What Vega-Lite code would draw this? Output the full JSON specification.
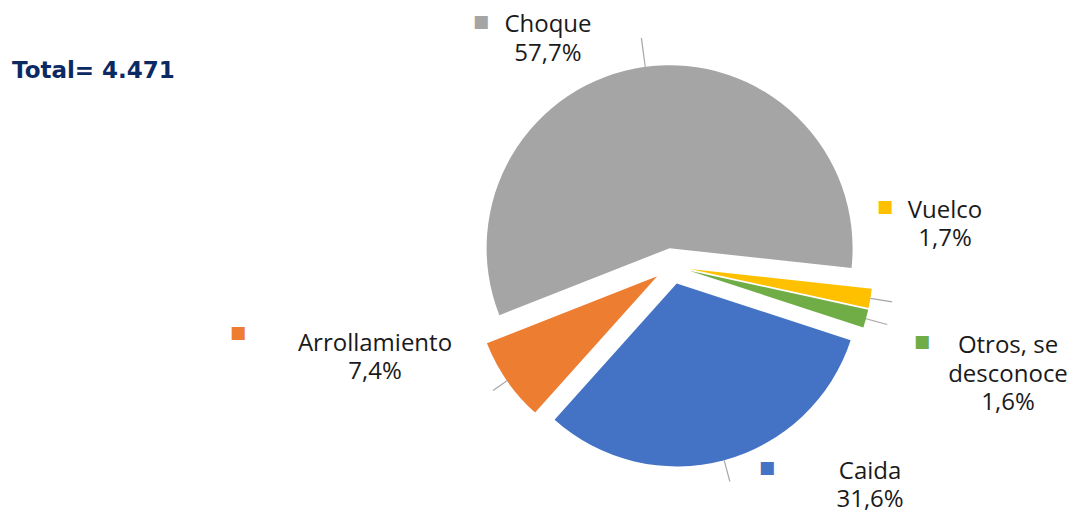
{
  "$schema": "https://vega.github.io/schema/vega-lite/v6.json",
  "width": 810,
  "height": 332,
  "autosize": "none",
  "padding": {"left": 267, "top": 100, "right": 0, "bottom": 78},
  "background": "white",
  "title": {
    "text": "Total= 4.471",
    "anchor": "start",
    "frame": "group",
    "dx": -255,
    "offset": -88,
    "baseline": "alphabetic",
    "font": "DejaVu Sans",
    "fontSize": 23,
    "fontWeight": "bold",
    "color": "#0b2a63"
  },
  "config": {"view": {"stroke": null}},
  "data": {
    "values": [
      {"cat": "Choque", "order": 1, "pct": 57.7, "lbl": "Choque\n57,7%"},
      {"cat": "Vuelco", "order": 2, "pct": 1.7, "lbl": "Vuelco\n1,7%"},
      {"cat": "Otros, se desconoce", "order": 3, "pct": 1.6, "lbl": "Otros, se\ndesconoce\n1,6%"},
      {"cat": "Caida", "order": 4, "pct": 31.6, "lbl": "Caida\n31,6%"},
      {"cat": "Arrollamiento", "order": 5, "pct": 7.4, "lbl": "Arrollamiento\n7,4%"}
    ]
  },
  "transform": [
    {"stack": "pct", "groupby": [], "sort": [{"field": "order", "order": "ascending"}], "as": ["v0", "v1"]}
  ],
  "layer": [
    {
      "transform": [{"filter": "datum.cat === 'Choque'"}],
      "mark": {"type": "arc", "outerRadius": 183, "xOffset": -2.4, "yOffset": -17.8},
      "encoding": {
        "theta": {"field": "v0", "type": "quantitative", "scale": {"domain": [0, 100], "range": [4.3371, 10.6203]}},
        "theta2": {"field": "v1"},
        "color": {"field": "cat", "type": "nominal", "scale": {"domain": ["Choque", "Vuelco", "Otros, se desconoce", "Caida", "Arrollamiento"], "range": ["#a5a5a5", "#ffc000", "#70ad47", "#4472c4", "#ed7d31"]}, "legend": null}
      }
    },
    {
      "transform": [{"filter": "datum.cat === 'Vuelco'"}],
      "mark": {"type": "arc", "outerRadius": 183, "xOffset": 17.8, "yOffset": 2.9},
      "encoding": {
        "theta": {"field": "v0", "type": "quantitative", "scale": {"domain": [0, 100], "range": [4.3371, 10.6203]}},
        "theta2": {"field": "v1"},
        "color": {"field": "cat", "type": "nominal", "legend": null}
      }
    },
    {
      "transform": [{"filter": "datum.cat === 'Otros, se desconoce'"}],
      "mark": {"type": "arc", "outerRadius": 183, "xOffset": 17.4, "yOffset": 4.7},
      "encoding": {
        "theta": {"field": "v0", "type": "quantitative", "scale": {"domain": [0, 100], "range": [4.3371, 10.6203]}},
        "theta2": {"field": "v1"},
        "color": {"field": "cat", "type": "nominal", "legend": null}
      }
    },
    {
      "transform": [{"filter": "datum.cat === 'Caida'"}],
      "mark": {"type": "arc", "outerRadius": 183, "xOffset": 4.7, "yOffset": 17.4},
      "encoding": {
        "theta": {"field": "v0", "type": "quantitative", "scale": {"domain": [0, 100], "range": [4.3371, 10.6203]}},
        "theta2": {"field": "v1"},
        "color": {"field": "cat", "type": "nominal", "legend": null}
      }
    },
    {
      "transform": [{"filter": "datum.cat === 'Arrollamiento'"}],
      "mark": {"type": "arc", "outerRadius": 183, "xOffset": -14.8, "yOffset": 10.3},
      "encoding": {
        "theta": {"field": "v0", "type": "quantitative", "scale": {"domain": [0, 100], "range": [4.3371, 10.6203]}},
        "theta2": {"field": "v1"},
        "color": {"field": "cat", "type": "nominal", "legend": null}
      }
    },
    {
      "transform": [{"filter": "datum.cat === 'Choque'"}],
      "mark": {"type": "arc", "innerRadius": 183, "outerRadius": 212, "xOffset": -2.4, "yOffset": -17.8, "thetaOffset": 1.8097, "theta2Offset": -1.8097, "color": "#a6a6a6"},
      "encoding": {
        "theta": {"field": "v0", "type": "quantitative", "scale": {"domain": [0, 100], "range": [4.3371, 10.6203]}},
        "theta2": {"field": "v1"}
      }
    },
    {
      "transform": [{"filter": "datum.cat === 'Vuelco'"}],
      "mark": {"type": "arc", "innerRadius": 183, "outerRadius": 205, "xOffset": 17.8, "yOffset": 2.9, "thetaOffset": 0.0504, "theta2Offset": -0.0504, "color": "#a6a6a6"},
      "encoding": {
        "theta": {"field": "v0", "type": "quantitative", "scale": {"domain": [0, 100], "range": [4.3371, 10.6203]}},
        "theta2": {"field": "v1"}
      }
    },
    {
      "transform": [{"filter": "datum.cat === 'Otros, se desconoce'"}],
      "mark": {"type": "arc", "innerRadius": 183, "outerRadius": 205, "xOffset": 17.4, "yOffset": 4.7, "thetaOffset": 0.0473, "theta2Offset": -0.0473, "color": "#a6a6a6"},
      "encoding": {
        "theta": {"field": "v0", "type": "quantitative", "scale": {"domain": [0, 100], "range": [4.3371, 10.6203]}},
        "theta2": {"field": "v1"}
      }
    },
    {
      "transform": [{"filter": "datum.cat === 'Caida'"}],
      "mark": {"type": "arc", "innerRadius": 183, "outerRadius": 205, "xOffset": 4.7, "yOffset": 17.4, "thetaOffset": 0.9897, "theta2Offset": -0.9897, "color": "#a6a6a6"},
      "encoding": {
        "theta": {"field": "v0", "type": "quantitative", "scale": {"domain": [0, 100], "range": [4.3371, 10.6203]}},
        "theta2": {"field": "v1"}
      }
    },
    {
      "transform": [{"filter": "datum.cat === 'Arrollamiento'"}],
      "mark": {"type": "arc", "innerRadius": 183, "outerRadius": 200, "xOffset": -14.8, "yOffset": 10.3, "thetaOffset": 0.2295, "theta2Offset": -0.2295, "color": "#a6a6a6"},
      "encoding": {
        "theta": {"field": "v0", "type": "quantitative", "scale": {"domain": [0, 100], "range": [4.3371, 10.6203]}},
        "theta2": {"field": "v1"}
      }
    },
    {
      "transform": [{"filter": "datum.cat === 'Choque'"}],
      "mark": {"type": "text", "radius": 243, "thetaOffset": 1.8127, "dx": -91.7, "dy": 0, "align": "center", "baseline": "middle", "font": "Open Sans", "fontSize": 24, "lineHeight": 28.5, "lineBreak": "\n", "color": "#1a1a1a"},
      "encoding": {
        "theta": {"field": "v0", "type": "quantitative", "scale": {"domain": [0, 100], "range": [4.3371, 10.6203]}},
        "text": {"field": "lbl"}
      }
    },
    {
      "transform": [{"filter": "datum.cat === 'Vuelco'"}],
      "mark": {"type": "text", "radius": 262, "thetaOffset": 0.0534, "dx": 14.4, "dy": -97.45, "align": "center", "baseline": "middle", "font": "Open Sans", "fontSize": 24, "lineHeight": 28.5, "lineBreak": "\n", "color": "#1a1a1a"},
      "encoding": {
        "theta": {"field": "v0", "type": "quantitative", "scale": {"domain": [0, 100], "range": [4.3371, 10.6203]}},
        "text": {"field": "lbl"}
      }
    },
    {
      "transform": [{"filter": "datum.cat === 'Otros, se desconoce'"}],
      "mark": {"type": "text", "radius": 353, "thetaOffset": 0.0503, "dx": -4.6, "dy": -12.2, "align": "center", "baseline": "middle", "font": "Open Sans", "fontSize": 24, "lineHeight": 28.5, "lineBreak": "\n", "color": "#1a1a1a"},
      "encoding": {
        "theta": {"field": "v0", "type": "quantitative", "scale": {"domain": [0, 100], "range": [4.3371, 10.6203]}},
        "text": {"field": "lbl"}
      }
    },
    {
      "transform": [{"filter": "datum.cat === 'Caida'"}],
      "mark": {"type": "text", "radius": 263, "thetaOffset": 0.9927, "dx": 129.9, "dy": -48.35, "align": "center", "baseline": "middle", "font": "Open Sans", "fontSize": 24, "lineHeight": 28.5, "lineBreak": "\n", "color": "#1a1a1a"},
      "encoding": {
        "theta": {"field": "v0", "type": "quantitative", "scale": {"domain": [0, 100], "range": [4.3371, 10.6203]}},
        "text": {"field": "lbl"}
      }
    },
    {
      "transform": [{"filter": "datum.cat === 'Arrollamiento'"}],
      "mark": {"type": "text", "radius": 296, "thetaOffset": 0.2325, "dx": -54, "dy": -91.25, "align": "center", "baseline": "middle", "font": "Open Sans", "fontSize": 24, "lineHeight": 28.5, "lineBreak": "\n", "color": "#1a1a1a"},
      "encoding": {
        "theta": {"field": "v0", "type": "quantitative", "scale": {"domain": [0, 100], "range": [4.3371, 10.6203]}},
        "text": {"field": "lbl"}
      }
    },
    {
      "transform": [{"filter": "datum.cat === 'Choque'"}],
      "mark": {"type": "text", "radius": 243, "thetaOffset": 1.8127, "dx": -158.7, "dy": -3.2, "align": "center", "baseline": "middle", "font": "DejaVu Sans", "fontSize": 17, "text": "■"},
      "encoding": {
        "theta": {"field": "v0", "type": "quantitative", "scale": {"domain": [0, 100], "range": [4.3371, 10.6203]}},
        "color": {"field": "cat", "type": "nominal", "legend": null}
      }
    },
    {
      "transform": [{"filter": "datum.cat === 'Vuelco'"}],
      "mark": {"type": "text", "radius": 262, "thetaOffset": 0.0534, "dx": -45.6, "dy": -101.2, "align": "center", "baseline": "middle", "font": "DejaVu Sans", "fontSize": 17, "text": "■"},
      "encoding": {
        "theta": {"field": "v0", "type": "quantitative", "scale": {"domain": [0, 100], "range": [4.3371, 10.6203]}},
        "color": {"field": "cat", "type": "nominal", "legend": null}
      }
    },
    {
      "transform": [{"filter": "datum.cat === 'Otros, se desconoce'"}],
      "mark": {"type": "text", "radius": 353, "thetaOffset": 0.0503, "dx": -90.6, "dy": -16.7, "align": "center", "baseline": "middle", "font": "DejaVu Sans", "fontSize": 17, "text": "■"},
      "encoding": {
        "theta": {"field": "v0", "type": "quantitative", "scale": {"domain": [0, 100], "range": [4.3371, 10.6203]}},
        "color": {"field": "cat", "type": "nominal", "legend": null}
      }
    },
    {
      "transform": [{"filter": "datum.cat === 'Caida'"}],
      "mark": {"type": "text", "radius": 263, "thetaOffset": 0.9927, "dx": 26.9, "dy": -52.1, "align": "center", "baseline": "middle", "font": "DejaVu Sans", "fontSize": 17, "text": "■"},
      "encoding": {
        "theta": {"field": "v0", "type": "quantitative", "scale": {"domain": [0, 100], "range": [4.3371, 10.6203]}},
        "color": {"field": "cat", "type": "nominal", "legend": null}
      }
    },
    {
      "transform": [{"filter": "datum.cat === 'Arrollamiento'"}],
      "mark": {"type": "text", "radius": 296, "thetaOffset": 0.2325, "dx": -191, "dy": -102, "align": "center", "baseline": "middle", "font": "DejaVu Sans", "fontSize": 17, "text": "■"},
      "encoding": {
        "theta": {"field": "v0", "type": "quantitative", "scale": {"domain": [0, 100], "range": [4.3371, 10.6203]}},
        "color": {"field": "cat", "type": "nominal", "legend": null}
      }
    }
  ]
}
